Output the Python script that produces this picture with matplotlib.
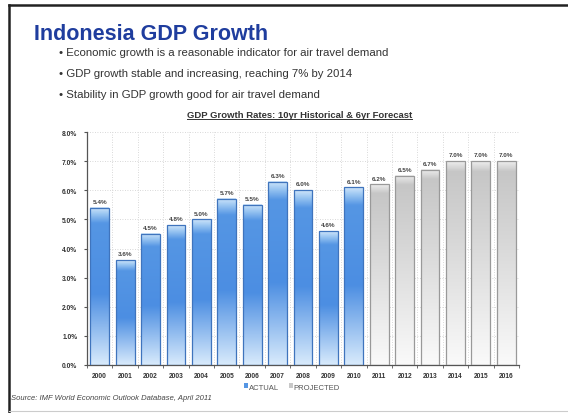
import numpy as np
import matplotlib
matplotlib.use("Agg")
import matplotlib.pyplot as plt
from matplotlib.lines import Line2D
from matplotlib.patches import Patch
from matplotlib.colors import LinearSegmentedColormap

plt.rcParams['font.family'] = ['Liberation Sans', 'DejaVu Sans']

# GDP growth data (%)
years = ["2000", "2001", "2002", "2003", "2004", "2005", "2006", "2007", "2008",
         "2009", "2010", "2011", "2012", "2013", "2014", "2015", "2016"]
growth = [5.4, 3.6, 4.5, 4.8, 5.0, 5.7, 5.5, 6.3, 6.0, 4.6, 6.1,
          6.2, 6.5, 6.7, 7.0, 7.0, 7.0]
projected = [False] * 11 + [True] * 6

bullets = ["Economic growth is a reasonable indicator for air travel demand",
           "GDP growth stable and increasing, reaching 7% by 2014",
           "Stability in GDP growth good for air travel demand"]

W, H = 568, 414
fig = plt.figure(figsize=(W / 100, H / 100), dpi=100)

# slide frame
fig.add_artist(Line2D([9 / W, 1], [1 - 6 / H, 1 - 6 / H], color="#222222", lw=1.8))
fig.add_artist(Line2D([9 / W, 9 / W], [0, 1 - 6 / H], color="#222222", lw=1.8))
fig.add_artist(Line2D([9 / W, 1], [1 - 412 / H, 1 - 412 / H], color="#cccccc", lw=0.8))

fig.text(34 / W, 1 - 34 / H, "Indonesia GDP Growth", fontsize=15.5, fontweight="bold",
         color="#1f3d9e", va="center", ha="left")
for i, b in enumerate(bullets):
    fig.text(59 / W, 1 - (53 + 21 * i) / H, "\u2022 " + b, fontsize=8.2,
             color="#333333", va="center", ha="left")

fig.text(299.5 / W, 1 - 115 / H, "GDP Growth Rates: 10yr Historical & 6yr Forecast",
         fontsize=6.8, fontweight="bold", color="#333333", ha="center", va="center")
fig.add_artist(Line2D([187 / W, 412 / W], [1 - 120 / H, 1 - 120 / H], color="#333333", lw=0.7))

ax = fig.add_axes([87 / W, 1 - 366 / H, 432 / W, 233 / H])

blue_cm = LinearSegmentedColormap.from_list(
    "b", [(0, "#d9ebfc"), (0.45, "#4c8ee2"), (0.9, "#5596e4"), (0.96, "#9cc7f2"), (1, "#cfe5fa")])
gray_cm = LinearSegmentedColormap.from_list(
    "g", [(0, "#fafafa"), (0.6, "#d8d8d8"), (0.95, "#c6c6c6"), (1, "#eeeeee")])
grad = np.linspace(0, 1, 256).reshape(-1, 1)

x = np.arange(len(years))
bw = 0.74
bars = ax.bar(x, growth, width=bw, color="none",
              edgecolor=["#999999" if p else "#3f74bd" for p in projected], lw=0.9, zorder=3)
for rect, p in zip(bars, projected):
    x0, w, h = rect.get_x(), rect.get_width(), rect.get_height()
    ax.imshow(grad, cmap=gray_cm if p else blue_cm, origin="lower", aspect="auto",
              extent=(x0, x0 + w, 0, h), zorder=2, interpolation="bilinear")

for xi, v in zip(x, growth):
    ax.text(xi, v + 0.13, f"{v:.1f}%", ha="center", va="bottom", fontsize=4.6,
            fontweight="bold", color="#444444", zorder=4,
            bbox=dict(boxstyle="square,pad=0.1", fc="white", ec="none"))

ax.set_xlim(-0.5, len(years) - 0.5)
ax.set_ylim(0, 8)
ax.set_yticks(np.arange(0, 9, 1))
ax.set_yticklabels([f"{t:.1f}%" for t in range(9)])
ax.set_xticks(x)
ax.set_xticklabels(years)
ax.set_xticks(np.arange(-0.5, len(years), 1), minor=True)
ax.tick_params(axis="x", which="major", length=0, pad=5)
ax.tick_params(axis="x", which="minor", length=2, color="#555555")
ax.tick_params(axis="y", length=2, color="#555555", pad=5)
for lab in ax.get_xticklabels() + ax.get_yticklabels():
    lab.set_fontsize(4.8)
    lab.set_fontweight("bold")
    lab.set_color("#333333")

ax.set_axisbelow(True)
ax.grid(axis="y", which="major", color="#cccccc", ls=(0, (1, 2)), lw=0.6)
ax.grid(axis="x", which="minor", color="#cccccc", ls=(0, (1, 2)), lw=0.6)
ax.xaxis.grid(False, which="major")
for s in ["top", "right"]:
    ax.spines[s].set_visible(False)
ax.spines["left"].set_color("#555555")
ax.spines["bottom"].set_color("#555555")
ax.spines["left"].set_linewidth(0.9)
ax.spines["bottom"].set_linewidth(0.9)

handles = [Patch(fc="#5596e4", ec="none", label="ACTUAL"),
           Patch(fc="#c8c8c8", ec="none", label="PROJECTED")]
fig.legend(handles=handles, loc="center", bbox_to_anchor=(292 / W, 1 - 388 / H), ncol=2,
           frameon=False, fontsize=5.5, handlelength=0.6, handleheight=0.6,
           handletextpad=0.1, columnspacing=1.2, labelcolor="#555555")

fig.text(11 / W, 1 - 399 / H, "Source: IMF World Economic Outlook Database, April 2011",
         fontsize=5.5, style="italic", color="#444444", ha="left", va="center")

fig.savefig("out.png", dpi=100)
